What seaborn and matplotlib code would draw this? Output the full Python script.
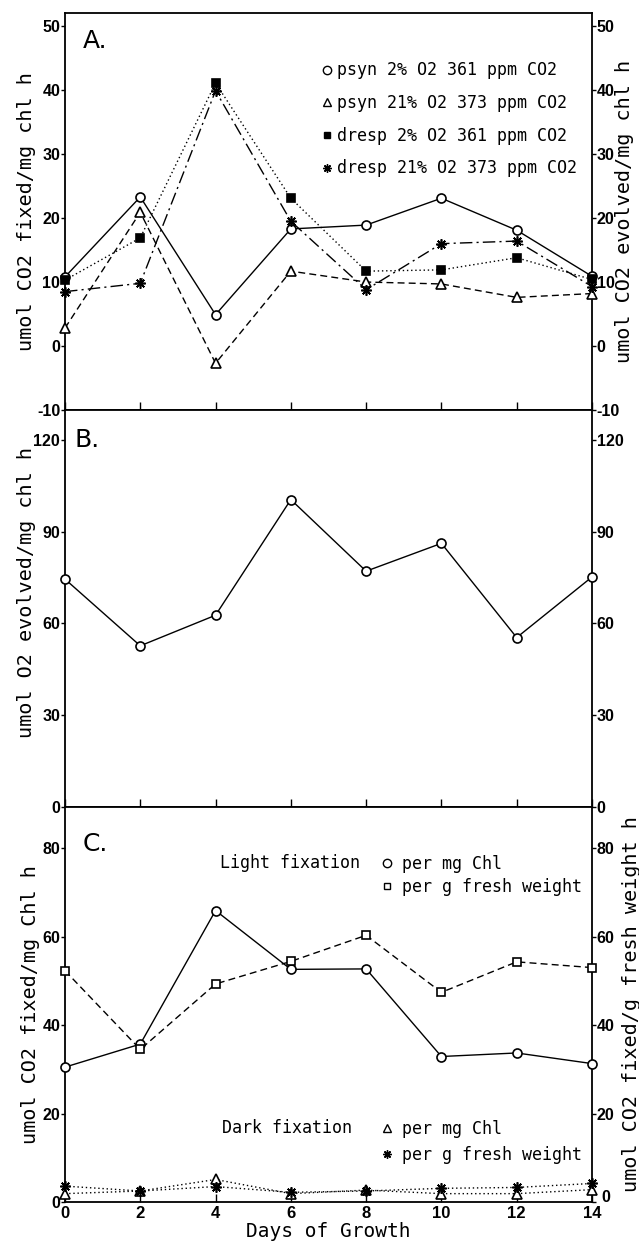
import numpy as np
import pandas as pd
import matplotlib
matplotlib.use("Agg")
import matplotlib.pyplot as plt
import matplotlib.transforms as mtransforms
from matplotlib.lines import Line2D
import seaborn as sns

sns.set_theme(style="white")
plt.rcParams['font.family'] = ['DejaVu Sans']
plt.rcParams['axes.unicode_minus'] = False
for k in ['text.color', 'axes.labelcolor', 'xtick.color', 'ytick.color',
          'axes.edgecolor']:
    plt.rcParams[k] = 'black'

days = [0, 2, 4, 6, 8, 10, 12, 14]

# Panel A
psyn_2 = [10.8, 23.3, 4.9, 18.3, 18.9, 23.1, 18.1, 10.9]
psyn_21 = [2.8, 20.9, -2.7, 11.7, 10.0, 9.7, 7.6, 8.2]
dresp_2 = [10.3, 16.9, 41.1, 23.1, 11.7, 11.9, 13.8, 10.4]
dresp_21 = [8.5, 9.8, 39.9, 19.5, 8.8, 16.0, 16.4, 9.3]

# Panel B
o2_evolved = [74.5, 52.7, 62.7, 100.5, 77.1, 86.2, 55.4, 75.2]

# Panel C
light_chl = [30.5, 35.7, 65.9, 52.6, 52.7, 32.9, 33.7, 31.3]
light_fw = [52.3, 34.5, 49.3, 54.4, 60.3, 47.4, 54.3, 53.0]
dark_chl = [1.9, 2.5, 5.1, 1.9, 2.7, 1.9, 1.9, 2.8]
dark_fw = [3.6, 2.5, 3.5, 2.2, 2.5, 3.1, 3.3, 4.2]

legend_a = ["psyn 2% O2 361 ppm CO2", "psyn 21% O2 373 ppm CO2",
            "dresp 2% O2 361 ppm CO2", "dresp 21% O2 373 ppm CO2"]
legend_c = ["per mg Chl", "per g fresh weight"]

MONO = ['DejaVu Sans Mono']
TICKFONT = ['Liberation Sans', 'DejaVu Sans']
STAR = (8, 2, 0)
LW = 1.0
MS = 6.5

fig = plt.figure(figsize=(6.39, 12.45), dpi=100)
L, W = 0.1017, 0.8247
axA = fig.add_axes([L, 0.6707, W, 0.3191])
axB = fig.add_axes([L, 0.3518, W, 0.3189])
axC = fig.add_axes([L, 0.0345, W, 0.3173])


def series(ax, y, marker, ls, mfc='white', ms=MS):
    df = pd.DataFrame({"day": days, "v": y})
    sns.lineplot(data=df, x="day", y="v", ax=ax, color='black', linewidth=LW,
                 linestyle=ls, marker=marker, markersize=ms,
                 markerfacecolor=mfc, markeredgecolor='black',
                 markeredgewidth=1.2, clip_on=False, zorder=3)


def style(ax, ylim, yticks, xlabels=False):
    ax.set_xlim(0, 14)
    ax.set_ylim(*ylim)
    ax.set_xticks(days)
    ax.set_yticks(yticks)
    for s in ax.spines.values():
        s.set_visible(True)
        s.set_color('black')
        s.set_linewidth(1.3)
    ax.tick_params(axis='y', which='both', direction='out', length=3, width=1.0,
                   left=True, right=True, labelleft=True, labelright=True,
                   labelsize=11.5, pad=0.5)
    ax.tick_params(axis='x', direction='in', length=6, width=1.0, bottom=True,
                   top=False, labelbottom=xlabels, labelsize=12, pad=3)
    for lab in ax.get_yticklabels() + ax.get_xticklabels():
        lab.set_family(TICKFONT)
        lab.set_fontweight('bold')
    ax.set_xlabel("")
    ax.set_ylabel("")
    ax.grid(False)


def ylab(ax, text, x=-0.055, y=0.5):
    ax.set_ylabel(text, family=MONO, fontsize=14.5)
    ax.yaxis.set_label_coords(x, y)


def rlab(ax, text, x):
    ax.text(x, 0.5, text, transform=ax.transAxes, rotation=90, ha='center',
            va='center', family=MONO, fontsize=14.5)


def panel_letter(ax, text, x, y):
    ax.text(x, y, text, transform=ax.transAxes, fontsize=18, va='top',
            ha='left', fontweight='normal')


# Panel A
series(axA, psyn_2, 'o', '-')
series(axA, psyn_21, '^', (0, (5, 3)))
series(axA, dresp_2, 's', (0, (1, 2)), mfc='black', ms=6)
series(axA, dresp_21, STAR, (0, (9, 3, 1.5, 3)), ms=7.5)
style(axA, (-10, 52.1), [-10, 0, 10, 20, 30, 40, 50])
ylab(axA, "umol CO2 fixed/mg chl h")
rlab(axA, "umol CO2 evolved/mg chl h", 1.062)
panel_letter(axA, "A.", 0.034, 0.958)
hA = [Line2D([], [], ls='none', marker='o', mfc='white', mec='black', ms=6),
      Line2D([], [], ls='none', marker='^', mfc='white', mec='black', ms=6),
      Line2D([], [], ls='none', marker='s', mfc='black', mec='black', ms=5),
      Line2D([], [], ls='none', marker=STAR, mfc='black', mec='black', ms=6)]
axA.legend(hA, legend_a, loc='upper left', bbox_to_anchor=(0.475, 0.894),
           frameon=False, handlelength=0.6, handletextpad=0.3,
           labelspacing=0.88, prop={'family': MONO, 'size': 12},
           borderaxespad=0)

# Panel B
series(axB, o2_evolved, 'o', '-')
style(axB, (0, 129.8), [0, 30, 60, 90, 120])
ylab(axB, "umol O2 evolved/mg chl h", y=0.54)
panel_letter(axB, "B.", 0.019, 0.955)

# Panel C
series(axC, light_chl, 'o', '-')
series(axC, light_fw, 's', (0, (5, 3)), ms=6)
series(axC, dark_chl, '^', (0, (1, 2)))
series(axC, dark_fw, STAR, (0, (1, 2)), ms=7.5)
style(axC, (0, 89.3), [0, 20, 40, 60, 80], xlabels=True)
ylab(axC, "umol CO2 fixed/mg Chl h", x=-0.048)
rlab(axC, "umol CO2 fixed/g fresh weight h", 1.075)
axC.set_xlabel("Days of Growth", family=MONO, fontsize=14, labelpad=0.5)
panel_letter(axC, "C.", 0.034, 0.937)

# nudge the right-hand "0" of panel C so it does not collide with "14"
zero_r = axC.yaxis.get_major_ticks()[0].label2
zero_r.set_transform(zero_r.get_transform() +
                     mtransforms.ScaledTranslation(3 / 72, 4 / 72,
                                                   fig.dpi_scale_trans))

axC.text(0.294, 0.858, "Light fixation", transform=axC.transAxes,
         family=MONO, fontsize=12, va='center', ha='left')
axC.text(0.297, 0.187, "Dark fixation", transform=axC.transAxes,
         family=MONO, fontsize=12, va='center', ha='left')
hL = [Line2D([], [], ls='none', marker='o', mfc='white', mec='black', ms=6),
      Line2D([], [], ls='none', marker='s', mfc='white', mec='black', ms=5)]
hD = [Line2D([], [], ls='none', marker='^', mfc='white', mec='black', ms=6),
      Line2D([], [], ls='none', marker=STAR, mfc='black', mec='black', ms=6)]
legL = axC.legend(hL, legend_c, loc='upper left', bbox_to_anchor=(0.588, 0.896),
                  frameon=False, handlelength=0.6, handletextpad=0.6,
                  labelspacing=0.32, prop={'family': MONO, 'size': 12},
                  borderaxespad=0)
axC.add_artist(legL)
axC.legend(hD, legend_c, loc='upper left', bbox_to_anchor=(0.588, 0.225),
           frameon=False, handlelength=0.6, handletextpad=0.6,
           labelspacing=0.5, prop={'family': MONO, 'size': 12},
           borderaxespad=0)

fig.savefig("out.png", dpi=100)
